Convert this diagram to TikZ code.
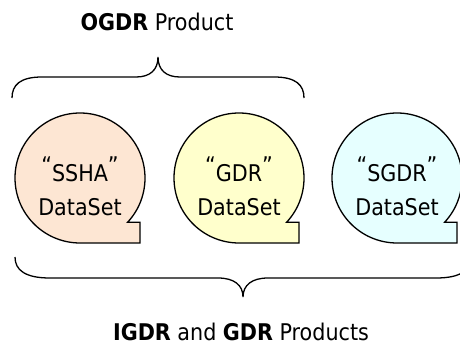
\documentclass[tikz,border=0pt]{standalone}
\usepackage{fontspec}
\setmainfont{DejaVu Sans Condensed}
\usepackage{tikz}
\usetikzlibrary{positioning}

\definecolor{sshafill}{RGB}{253,230,211}
\definecolor{gdrfill}{RGB}{255,255,204}
\definecolor{sgdrfill}{RGB}{230,255,255}

\newcommand{\qup}[1]{\raisebox{.34em}{#1}}

\tikzset{
  bubble/.style={draw=black, line width=1.3pt, line join=miter},
  brace/.style={draw=black, line width=1.3pt},
  label/.style={font=\fontsize{23}{34}\selectfont, align=center, inner sep=0pt},
  caption/.style={font=\fontsize{23}{27}\selectfont, inner sep=0pt}
}

\begin{document}
\begin{tikzpicture}[x=1pt,y=1pt]
  \useasboundingbox (0,0) rectangle (460,-345);
  \clip (0,0) rectangle (460,-345);

  % the three data sets
  \draw[bubble, fill=sshafill] (80,-178) ++(-43:65) arc[start angle=-43, end angle=270, radius=65]
      -- ++(60,0) -- ++(0,20.7) -- cycle;
  \draw[bubble, fill=gdrfill] (239,-178) ++(-43:65) arc[start angle=-43, end angle=270, radius=65]
      -- ++(60,0) -- ++(0,20.7) -- cycle;
  \draw[bubble, fill=sgdrfill] (397,-178) ++(-43:65) arc[start angle=-43, end angle=270, radius=65]
      -- ++(60,0) -- ++(0,20.7) -- cycle;

  \node[label] (ssha) at (80,-186) {\qup{“}SSHA\qup{”}\\DataSet};
  \node[label] (gdr)  at (239,-186) {\qup{“}GDR\qup{”}\\DataSet};
  \node[label] (sgdr) at (397,-186) {\qup{“}SGDR\qup{”}\\DataSet};

  % braces
  \draw[brace] (12,-98) .. controls (12,-85) and (20,-77) .. (42,-77) -- (136,-77)
      .. controls (150,-77) and (158,-70) .. (158,-57)
      .. controls (158,-70) and (166,-77) .. (180,-77) -- (274,-77)
      .. controls (296,-77) and (304,-85) .. (304,-98);
  \draw[brace] (15,-257) .. controls (15,-270) and (25,-278) .. (50,-278) -- (218,-278)
      .. controls (234,-278) and (243,-285) .. (243,-297)
      .. controls (243,-285) and (252,-278) .. (268,-278) -- (436,-278)
      .. controls (461,-278) and (471,-270) .. (471,-257);

  \node[caption] (ogdr) at (157,-21.5) {\textbf{OGDR} Product};
  \node[caption] (igdr) at (241,-332) {\textbf{IGDR} and \textbf{GDR} Products};
\end{tikzpicture}
\end{document}
